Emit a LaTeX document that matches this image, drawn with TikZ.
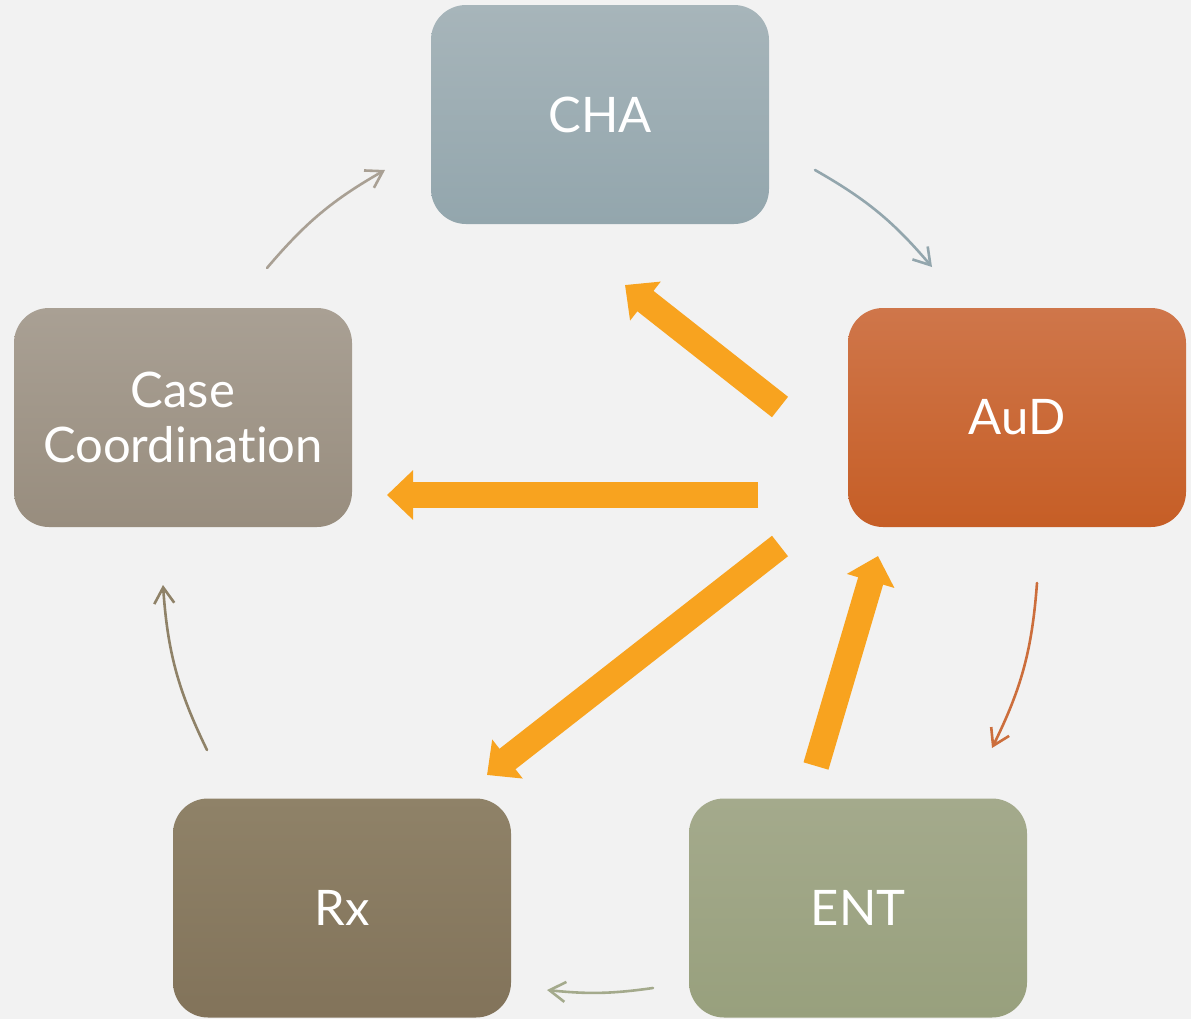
\documentclass[tikz,border=0pt]{standalone}
\usepackage{fontspec}
\setmainfont{Lato}[Ligatures=NoCommon]
\usetikzlibrary{arrows.meta}
\definecolor{bgc}{HTML}{F2F2F2}
\definecolor{arrowc}{HTML}{F8A31F}
\definecolor{chatop}{HTML}{A7B5BA}
\definecolor{chabot}{HTML}{93A6AD}
\definecolor{audtop}{HTML}{CF764A}
\definecolor{audbot}{HTML}{C65E26}
\definecolor{casetop}{HTML}{A9A094}
\definecolor{casebot}{HTML}{988D7E}
\definecolor{rxtop}{HTML}{8F8268}
\definecolor{rxbot}{HTML}{82735A}
\definecolor{enttop}{HTML}{A4AA8C}
\definecolor{entbot}{HTML}{98A07D}
\tikzset{
  box/.style={rounded corners=17.5pt, minimum width=169pt, minimum height=109.5pt,
    inner sep=0pt, align=center, text=white, font=\fontsize{24.5}{27.5}\selectfont},
  bigarrow/.style={draw=arrowc, line width=13pt, line cap=butt, line join=miter,
    -{Triangle[length=13pt,width=24pt]}},
  cycarrow/.style={line width=1.3pt, -{Straight Barb[length=8pt,width=10pt]}}
}
\begin{document}
\begin{tikzpicture}[line cap=round,line join=round,x=0.5pt,y=-0.5pt]
\fill[bgc] (0,0) rectangle (1191,1019);
\useasboundingbox (0,0) rectangle (1191,1019);
\node[box, top color=chatop, bottom color=chabot] (cha) at (600,114.5) {CHA};
\node[box, top color=audtop, bottom color=audbot] (aud) at (1017,417.5) {AuD};
\node[box, top color=casetop, bottom color=casebot] (case) at (183,417.5) {Case\\Coordination};
\node[box, top color=rxtop, bottom color=rxbot] (rx) at (342,908) {Rx};
\node[box, top color=enttop, bottom color=entbot] (ent) at (858,908) {ENT};
\coordinate (a1) at (815,170);
\coordinate (b1) at (932,267);
\coordinate (a2) at (1037,583);
\coordinate (b2) at (992,748);
\coordinate (a3) at (653,988);
\coordinate (b3) at (547,990);
\coordinate (a4) at (207,750);
\coordinate (b4) at (163,585);
\coordinate (a5) at (267,268);
\coordinate (b5) at (385,170);
\draw[cycarrow, draw=chabot] (a1) to[bend left=10] (b1);
\draw[cycarrow, draw=audbot!90!white] (a2) to[bend left=11] (b2);
\draw[cycarrow, draw=enttop] (a3) to[bend left=7] (b3);
\draw[cycarrow, draw=rxtop] (a4) to[bend left=11] (b4);
\draw[cycarrow, draw=casetop] (a5) to[bend left=10] (b5);
\coordinate (t1) at (780,407);
\coordinate (h1) at (625,285);
\coordinate (t2) at (758,495);
\coordinate (h2) at (387,495);
\coordinate (t3) at (780,546);
\coordinate (h3) at (487,775);
\coordinate (t4) at (816,766);
\coordinate (h4) at (878,556);
\draw[bigarrow] (t1) -- (h1);
\draw[bigarrow] (t2) -- (h2);
\draw[bigarrow] (t3) -- (h3);
\draw[bigarrow] (t4) -- (h4);
\end{tikzpicture}
\end{document}
